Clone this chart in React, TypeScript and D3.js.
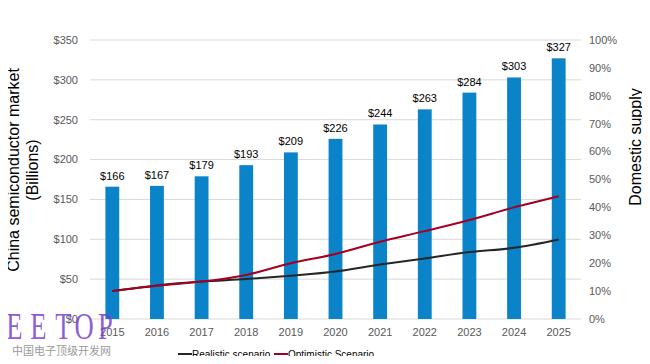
import React, { useRef, useEffect } from 'react';
import * as d3 from 'd3';

const years = ['2015', '2016', '2017', '2018', '2019', '2020', '2021', '2022', '2023', '2024', '2025'];
const marketValues = [166, 167, 179, 193, 209, 226, 244, 263, 284, 303, 327];
const realisticSupply = [10, 12, 13.4, 14.3, 15.5, 17, 19.5, 21.7, 24, 25.5, 28.5];
const optimisticSupply = [10, 11.9, 13.4, 15.8, 20, 23.3, 27.7, 31.5, 35.5, 40, 44];
const leftTicks = [0, 50, 100, 150, 200, 250, 300, 350];
const rightTicks = [0, 10, 20, 30, 40, 50, 60, 70, 80, 90, 100];

const width = 650;
const height = 364;
const margin = { top: 40, right: 69, bottom: 45, left: 90 };

const App: React.FC = () => {
  const svgRef = useRef<SVGSVGElement>(null);

  useEffect(() => {
    if (!svgRef.current) return;
    const svg = d3.select(svgRef.current);
    svg.selectAll('*').remove();

    const x = d3.scaleBand().domain(years).range([margin.left, width - margin.right]).paddingInner(0.69).paddingOuter(0.345);
    const y = d3.scaleLinear().domain([0, 350]).range([height - margin.bottom, margin.top]);
    const y2 = d3.scaleLinear().domain([0, 100]).range([height - margin.bottom, margin.top]);
    const font = 'Arial, "Liberation Sans", sans-serif';

    // gridlines
    svg.append('g')
      .selectAll('line')
      .data(leftTicks)
      .join('line')
      .attr('x1', margin.left)
      .attr('x2', width - margin.right)
      .attr('y1', (d) => y(d))
      .attr('y2', (d) => y(d))
      .attr('stroke', '#d9d9d9')
      .attr('stroke-width', 1);

    // bars
    svg.append('g')
      .selectAll('rect')
      .data(marketValues)
      .join('rect')
      .attr('x', (_, i) => x(years[i])!)
      .attr('y', (d) => y(d))
      .attr('width', x.bandwidth())
      .attr('height', (d) => y(0) - y(d))
      .attr('fill', '#0a83c9');

    // bar labels
    svg.append('g')
      .selectAll('text')
      .data(marketValues)
      .join('text')
      .attr('x', (_, i) => x(years[i])! + x.bandwidth() / 2)
      .attr('y', (d) => y(d) - 7)
      .attr('text-anchor', 'middle')
      .attr('font-family', font)
      .attr('font-size', '11px')
      .attr('fill', '#000')
      .text((d) => `$${d}`);

    // left axis labels
    svg.append('g')
      .selectAll('text')
      .data(leftTicks)
      .join('text')
      .attr('x', 78)
      .attr('y', (d) => y(d))
      .attr('dy', '0.35em')
      .attr('text-anchor', 'end')
      .attr('font-family', font)
      .attr('font-size', '11px')
      .attr('fill', '#595959')
      .text((d) => `$${d}`);

    // right axis labels
    svg.append('g')
      .selectAll('text')
      .data(rightTicks)
      .join('text')
      .attr('x', 589)
      .attr('y', (d) => y2(d))
      .attr('dy', '0.35em')
      .attr('text-anchor', 'start')
      .attr('font-family', font)
      .attr('font-size', '11px')
      .attr('fill', '#595959')
      .text((d) => `${d}%`);

    // x labels
    svg.append('g')
      .selectAll('text')
      .data(years)
      .join('text')
      .attr('x', (d) => x(d)! + x.bandwidth() / 2)
      .attr('y', height - margin.bottom + 17)
      .attr('text-anchor', 'middle')
      .attr('font-family', font)
      .attr('font-size', '11px')
      .attr('fill', '#595959')
      .text((d) => d);

    // lines
    const line = d3
      .line<number>()
      .x((_, i) => x(years[i])! + x.bandwidth() / 2)
      .y((d) => y2(d))
      .curve(d3.curveMonotoneX);

    svg.append('path')
      .datum(realisticSupply)
      .attr('d', line)
      .attr('fill', 'none')
      .attr('stroke', '#262626')
      .attr('stroke-width', 2);

    svg.append('path')
      .datum(optimisticSupply)
      .attr('d', line)
      .attr('fill', 'none')
      .attr('stroke', '#a50021')
      .attr('stroke-width', 2);

    // axis titles
    const leftTitle = svg.append('text')
      .attr('transform', 'translate(24, 170) rotate(-90)')
      .attr('text-anchor', 'middle')
      .attr('font-family', font)
      .attr('font-size', '16px')
      .attr('fill', '#000');
    leftTitle.append('tspan').attr('x', 0).attr('y', -5).text('China semiconductor market');
    leftTitle.append('tspan').attr('x', 0).attr('y', 14).text('(Billions)');

    svg.append('text')
      .attr('transform', 'translate(641, 147) rotate(-90)')
      .attr('text-anchor', 'middle')
      .attr('font-family', font)
      .attr('font-size', '16px')
      .attr('fill', '#000')
      .text('Domestic supply');

    // legend
    const legendItems = [
      { label: 'Realistic scenario', color: '#262626', x: 178 },
      { label: 'Optimistic Scenario', color: '#a50021', x: 274 },
    ];
    legendItems.forEach((item) => {
      svg.append('line')
        .attr('x1', item.x)
        .attr('x2', item.x + 14)
        .attr('y1', 354)
        .attr('y2', 354)
        .attr('stroke', item.color)
        .attr('stroke-width', 2);
      svg.append('text')
        .attr('x', item.x + 14)
        .attr('y', 354)
        .attr('dy', '0.35em')
        .attr('font-family', font)
        .attr('font-size', '10px')
        .attr('fill', '#000')
        .text(item.label);
    });

    // watermark
    const marks = [
      { ch: 'E', x: 14.5 },
      { ch: 'E', x: 38.5 },
      { ch: 'T', x: 63.5 },
      { ch: 'O', x: 84 },
      { ch: 'P', x: 105.5 },
    ];
    svg.append('g')
      .selectAll('text')
      .data(marks)
      .join('text')
      .attr('transform', (d) => `translate(${d.x}, 339) scale(0.72, 1)`)
      .attr('text-anchor', 'middle')
      .attr('font-family', '"Liberation Serif", "DejaVu Serif", serif')
      .attr('font-size', '37px')
      .attr('fill', '#7a3fd0')
      .attr('fill-opacity', 0.85)
      .text((d) => d.ch);

    svg.append('text')
      .attr('x', 12)
      .attr('y', 355)
      .attr('font-family', '"Noto Sans CJK SC", sans-serif')
      .attr('font-size', '11px')
      .attr('fill', '#9a9a9a')
      .text('中国电子顶级开发网');
  }, []);

  return (
    <div style={{ margin: -8 }}>
      <svg ref={svgRef} width={width} height={height} style={{ display: 'block', background: '#fff' }} />
    </div>
  );
};

export default App;
